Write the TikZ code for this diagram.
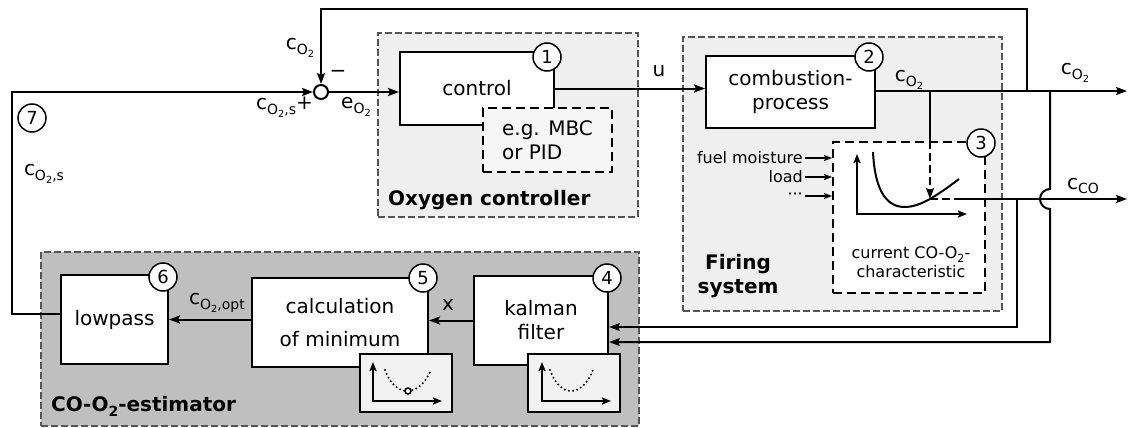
\documentclass[tikz,border=0pt]{standalone}
\usepackage{fontspec}
\setmainfont{DejaVu Sans}
\usepackage{graphicx}
\usetikzlibrary{arrows.meta}
\definecolor{lightbg}{HTML}{EFEFEF}
\definecolor{darkbg}{HTML}{BFBFBF}
\definecolor{grpline}{HTML}{555555}
\definecolor{insetbg}{HTML}{F2F2F2}
\definecolor{exbg}{HTML}{F6F6F6}
\newcommand{\lsub}[1]{\raisebox{-0.45ex}{\scalebox{0.7}{#1}}}
\newcommand{\fmain}{\fontsize{20}{24}\selectfont}
\newcommand{\fsmall}{\fontsize{16}{19}\selectfont}
\begin{document}
\begin{tikzpicture}[x=1pt,y=-1pt,
  ln/.style={line width=2pt},
  arr/.style={-{Stealth[length=11pt,width=8pt,inset=2pt]}},
  sarr/.style={-{Stealth[length=8pt,width=6pt,inset=1.5pt]}},
  axarr/.style={{Stealth[length=9pt,width=7pt,inset=1.5pt]}-{Stealth[length=9pt,width=7pt,inset=1.5pt]}},
  grp/.style={draw=grpline, line width=1.5pt, dash pattern=on 7pt off 3pt, inner sep=0pt},
  blk/.style={draw, line width=2pt, fill=white, inner sep=0pt, align=center, font=\fmain},
  dblk/.style={draw, line width=2pt, dash pattern=on 9pt off 5pt, inner sep=0pt},
  inset/.style={draw, line width=2pt, fill=insetbg, inner sep=0pt, minimum width=92pt, minimum height=58pt},
  num/.style={circle, draw, line width=1.5pt, fill=white, minimum size=28pt, inner sep=0pt, font=\fontsize{18}{18}\selectfont},
  lbl/.style={inner sep=1pt, font=\fmain},
  inlbl/.style={inner sep=2pt, anchor=east, font=\fsmall},
  dotcurve/.style={line width=2.2pt, line cap=round, dash pattern=on 0pt off 4.2pt}
]
\useasboundingbox (0,0) rectangle (1129,428);
% groups
\node[grp, fill=darkbg, minimum width=598pt, minimum height=174pt] (est) at (340,339) {};
\node[grp, fill=lightbg, minimum width=260pt, minimum height=184pt] (oxy) at (508,125) {};
\node[grp, fill=lightbg, minimum width=319pt, minimum height=274pt] (fir) at (842.5,174) {};
\node[font=\fmain\bfseries, anchor=west, inner sep=0pt] (oxyl) at (388,200) {Oxygen controller};
\node[font=\fmain\bfseries, align=center, inner sep=0pt] (firl) at (738,276) {Firing\\system};
\node[font=\fmain\bfseries, anchor=west, inner sep=0pt] (estl) at (51,406) {CO-O\lsub{2}-estimator};

% oxygen controller
\node[blk, minimum width=154pt, minimum height=73pt] (ctrl) at (477,88.5) {control};
\node[dblk, fill=exbg, minimum width=129pt, minimum height=64pt, align=left, font=\fmain] (ex) at (547.5,140) {e.g. MBC\\or PID};
\node[num] (n1) at (547,57) {1};

% firing system
\node[blk, minimum width=169pt, minimum height=72pt] (comb) at (790.5,92) {combustion-\\process};
\node[dblk, fill=white, minimum width=152pt, minimum height=151pt] (char) at (909,217.5) {};
\node[font=\fsmall, align=center, inner sep=0pt] (chart) at (911,262) {current CO-O\lsub{2}-\\characteristic};
\node[inlbl] (in1) at (805,158) {fuel moisture};
\node[inlbl] (in2) at (805,177) {load};
\node[inlbl] (in3) at (805,196) {···};
\draw[line width=1.5pt, sarr] (in1.east) -- (in1.east -| char.west);
\draw[line width=1.5pt, sarr] (in2.east) -- (in2.east -| char.west);
\draw[line width=1.5pt, sarr] (in3.east) -- (in3.east -| char.west);
% characteristic plot
\draw[ln, axarr] (857,154) -- (857,214) -- (967,214);
\draw[ln] (873,152) .. controls (876,215) and (905,213) .. (930,199) .. controls (940,193) and (950,186) .. (959,179);

% estimator
\node[blk, minimum width=134pt, minimum height=89pt] (kal) at (541,320.5) {kalman\\filter};
\node[inset] (kalin) at (574,383) {};
\node[num] (n4) at (607,278) {4};
\node[blk, minimum width=176pt, minimum height=89pt] (calc) at (340,322.5) {calculation\\[9pt]of minimum};
\node[inset] (calcin) at (405.5,383) {};
\node[num] (n5) at (423,278) {5};
\node[blk, minimum width=107pt, minimum height=89pt] (low) at (114.5,319.5) {lowpass};
\node[num] (n6) at (163,277) {6};
% inset plots
\draw[ln, axarr] (542,362) -- (542,401) -- (611,401);
\draw[dotcurve] (550,370) .. controls (560,398) and (582,398) .. (593,370);
\draw[ln, axarr] (373,362) -- (373,401) -- (442,401);
\draw[dotcurve] (385,370) .. controls (395,398) and (419,398) .. (431,370);
\draw[line width=1.5pt, fill=white] (408,391) circle[radius=3pt];

% sum junction and number 7
\node[circle, draw, line width=2pt, fill=white, minimum size=14pt, inner sep=0pt] (sum) at (321,92) {};
\node[num] (n7) at (32,118) {7};

% coordinates
\coordinate (lc) at (12,314);
\coordinate (outO2) at (1127,91);
\coordinate (fb) at (1027,91);
\coordinate (fbtop) at (1027,9);
\coordinate (dA) at (930,91);
\coordinate (cp) at (930,199);
\coordinate (dE) at (960,199);
\coordinate (outCO) at (1127,199);
\coordinate (vB) at (1050,91);
\coordinate (b1) at (1050,189);
\coordinate (b3) at (1050,342);
\coordinate (vA) at (1017,199);
\coordinate (vA2) at (1017,327);

% connectors
\draw[ln, arr] (low.west |- lc) -- (lc) |- (sum);
\draw[ln, arr] (sum) -- (ctrl.west |- sum);
\draw[ln, arr] (ctrl.east) -- (comb.west |- ctrl.east);
\draw[ln, arr] (comb.east |- outO2) -- (outO2);
\draw[ln, arr] (fb) -- (fbtop) -| (sum);
\draw[ln] (dA) -- (dA |- char.north);
\draw[ln, dash pattern=on 8pt off 4pt, arr] (dA |- char.north) -- (cp);
\draw[ln, dash pattern=on 8pt off 4pt] (cp) -- (dE);
\draw[ln, arr] (dE) -- (outCO);
\draw[ln, arr] (vB) -- (b1) arc[start angle=90, end angle=270, radius=10pt] -- (b3) -- (kal.east |- b3);
\draw[ln, arr] (vA) -- (vA2) -- (kal.east |- vA2);
\draw[ln, arr] (kal.west) -- (calc.east |- kal.west);
\draw[ln, arr] (calc.west |- low.east) -- (low.east);
\node[num] (n3) at (981,143) {3};
\node[num] (n2) at (869,57) {2};

% labels
\node[lbl] (lcO2a) at (300,48) {c\lsub{O\lsub{2}}};
\node[lbl] (lminus) at (338,74) {−};
\node[lbl, anchor=east] (lsp) at (314,107) {c\lsub{O\lsub{2},s}+};
\node[lbl] (le) at (356,107) {e\lsub{O\lsub{2}}};
\node[lbl] (lcs) at (44,174) {c\lsub{O\lsub{2},s}};
\node[lbl] (lu) at (659,71) {u};
\node[lbl] (lcO2b) at (909,80) {c\lsub{O\lsub{2}}};
\node[lbl] (lcO2c) at (1075,73) {c\lsub{O\lsub{2}}};
\node[lbl] (lcCO) at (1083,186) {c\lsub{CO}};
\node[lbl] (lx) at (448,305) {x};
\node[lbl] (lopt) at (217,303) {c\lsub{O\lsub{2},opt}};
\end{tikzpicture}
\end{document}
